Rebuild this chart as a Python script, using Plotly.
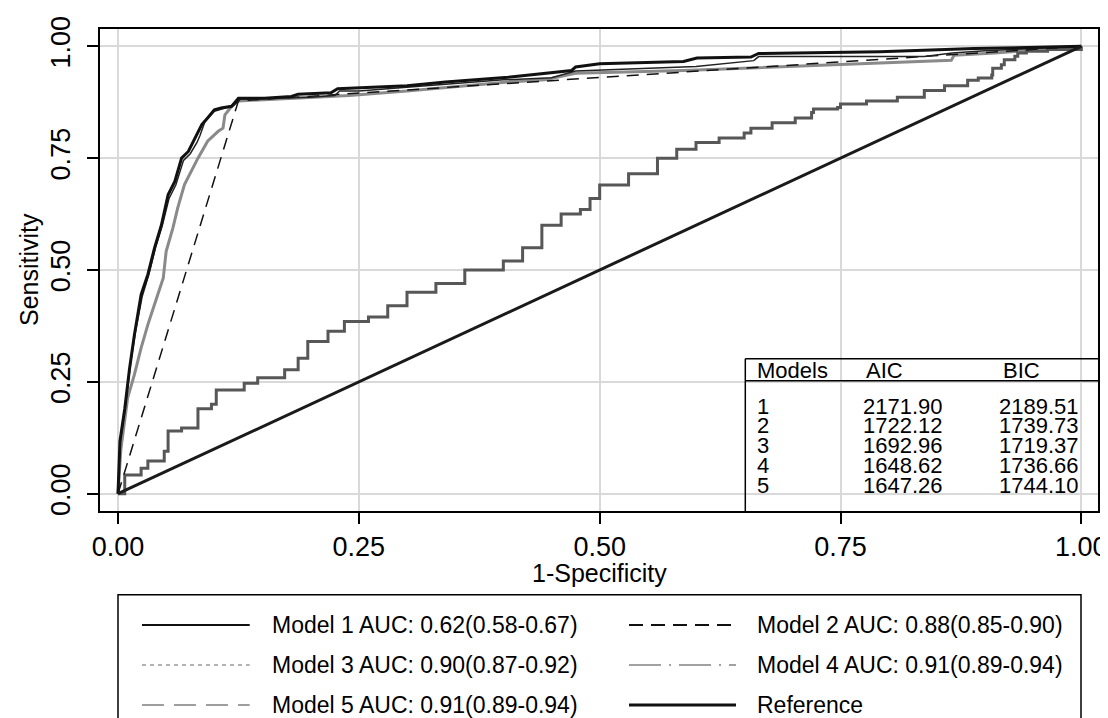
import plotly.graph_objects as go

# ---------------- data ----------------
tick_vals = [0, 0.25, 0.5, 0.75, 1.0]
tick_text = ["0.00", "0.25", "0.50", "0.75", "1.00"]

m1_fpr = [0, 0.007, 0.024, 0.031, 0.048, 0.052, 0.066, 0.083, 0.097, 0.102, 0.125, 0.131,
          0.145, 0.173, 0.187, 0.197, 0.218, 0.235, 0.26, 0.28, 0.30, 0.33, 0.36, 0.40,
          0.42, 0.44, 0.46, 0.48, 0.49, 0.50, 0.53, 0.56, 0.58, 0.60, 0.624, 0.650, 0.657,
          0.679, 0.703, 0.72, 0.722, 0.747, 0.75, 0.777, 0.809, 0.837, 0.858, 0.882, 0.893,
          0.907, 0.908, 0.917, 0.92, 0.931, 0.934, 0.943, 0.965, 1.0]
m1_tpr = [0, 0.042, 0.057, 0.073, 0.095, 0.14, 0.147, 0.19, 0.2, 0.232, 0.232, 0.247,
          0.259, 0.277, 0.303, 0.34, 0.363, 0.385, 0.395, 0.42, 0.45, 0.47, 0.50, 0.52,
          0.55, 0.60, 0.625, 0.635, 0.66, 0.69, 0.715, 0.75, 0.77, 0.785, 0.795, 0.806, 0.817,
          0.829, 0.840, 0.852, 0.86, 0.863, 0.871, 0.878, 0.886, 0.901, 0.912, 0.924, 0.929,
          0.936, 0.951, 0.959, 0.97, 0.978, 0.985, 0.989, 0.993, 1.0]

m2_fpr = [0, 0.125, 1.0]
m2_tpr = [0, 0.878, 1.0]

m3_fpr = [0, 0.002, 0.007, 0.012, 0.017, 0.024, 0.031, 0.038, 0.045, 0.052, 0.059, 0.066,
          0.073, 0.08, 0.087, 0.093, 0.1, 0.107, 0.118, 0.125, 0.152, 0.18, 0.187, 0.221,
          0.228, 0.30, 0.34, 0.405, 0.443, 0.471, 0.475, 0.50, 0.587, 0.601, 0.657, 0.665,
          0.791, 0.889, 1.0]
m3_tpr = [0, 0.117, 0.19, 0.28, 0.355, 0.445, 0.49, 0.55, 0.60, 0.668, 0.698, 0.75,
          0.765, 0.795, 0.825, 0.84, 0.858, 0.862, 0.866, 0.884, 0.884, 0.888, 0.893, 0.896,
          0.905, 0.912, 0.92, 0.931, 0.939, 0.946, 0.954, 0.961, 0.966, 0.974, 0.976, 0.984,
          0.988, 0.995, 1.0]

m4_fpr = [0, 0.002, 0.008, 0.013, 0.018, 0.025, 0.032, 0.039, 0.046, 0.053, 0.06, 0.068,
          0.075, 0.082, 0.085, 0.09, 0.1, 0.112, 0.12, 0.127, 0.2, 0.225, 0.23, 0.25, 0.4,
          0.45, 0.475, 0.6, 0.66, 0.665, 0.837, 0.866, 0.9, 1.0]
m4_tpr = [0, 0.11, 0.2, 0.29, 0.36, 0.44, 0.49, 0.55, 0.60, 0.66, 0.69, 0.745,
          0.76, 0.785, 0.80, 0.83, 0.855, 0.862, 0.868, 0.882, 0.886, 0.89, 0.9, 0.9, 0.925,
          0.93, 0.945, 0.955, 0.968, 0.977, 0.977, 0.985, 0.99, 1.0]

m5_fpr = [0, 0.003, 0.010, 0.017, 0.024, 0.031, 0.040, 0.047, 0.050, 0.057, 0.062, 0.069,
          0.083, 0.093, 0.104, 0.109, 0.111, 0.118, 0.125, 0.2, 0.24, 0.30, 0.405, 0.443,
          0.475, 0.587, 0.665, 0.865, 0.868, 0.91, 0.96, 1.0]
m5_tpr = [0, 0.1, 0.214, 0.266, 0.326, 0.378, 0.437, 0.482, 0.542, 0.594, 0.639, 0.691,
          0.750, 0.788, 0.81, 0.817, 0.847, 0.866, 0.878, 0.886, 0.89, 0.90, 0.92, 0.925,
          0.94, 0.946, 0.952, 0.969, 0.98, 0.985, 0.993, 1.0]

ref_x = [0, 1]
ref_y = [0, 1]

legend_labels = ["Model 1 AUC: 0.62(0.58-0.67)", "Model 2 AUC: 0.88(0.85-0.90)",
                 "Model 3 AUC: 0.90(0.87-0.92)", "Model 4 AUC: 0.91(0.89-0.94)",
                 "Model 5 AUC: 0.91(0.89-0.94)", "Reference"]

x_title = "1-Specificity"
y_title = "Sensitivity"

table_header = ["Models", "AIC", "BIC"]
table_models = ["1", "2", "3", "4", "5"]
table_aic = ["2171.90", "1722.12", "1692.96", "1648.62", "1647.26"]
table_bic = ["2189.51", "1739.73", "1719.37", "1736.66", "1744.10"]

# ---------------- layout geometry ----------------
W, H = 1108, 718
L, R, T, B = 92, 18, 21, 215
PW, PH = W - L - R, H - T - B
FONT = "Liberation Sans, Arial, Helvetica, sans-serif"


def px(xp):
    return (xp - L) / PW


def py(yp):
    return (H - B - yp) / PH


fig = go.Figure()

fig.add_trace(go.Scatter(x=m5_fpr, y=m5_tpr, mode="lines",
                         line=dict(color="#8a8a8a", width=3), name=legend_labels[4]))
fig.add_trace(go.Scatter(x=m1_fpr, y=m1_tpr, mode="lines", line_shape="hv",
                         line=dict(color="#575757", width=3), name=legend_labels[0]))
fig.add_trace(go.Scatter(x=m2_fpr, y=m2_tpr, mode="lines",
                         line=dict(color="#111111", width=1.5, dash="12px,8px"),
                         name=legend_labels[1]))
fig.add_trace(go.Scatter(x=m4_fpr, y=m4_tpr, mode="lines",
                         line=dict(color="#222222", width=1.5), name=legend_labels[3]))
fig.add_trace(go.Scatter(x=m3_fpr, y=m3_tpr, mode="lines",
                         line=dict(color="#111111", width=3), name=legend_labels[2]))
fig.add_trace(go.Scatter(x=ref_x, y=ref_y, mode="lines",
                         line=dict(color="#1a1a1a", width=3), name=legend_labels[5]))

axis_common = dict(
    tickvals=tick_vals, ticktext=tick_text,
    showgrid=True, gridcolor="#d9d9d9", gridwidth=2, zeroline=False,
    showline=True, mirror=True, linecolor="black", linewidth=2,
    ticks="outside", ticklen=11, tickwidth=1.5, tickcolor="black",
    tickfont=dict(size=27, color="black", family=FONT),
)

fig.update_layout(
    width=W, height=H,
    margin=dict(l=L, r=R, t=T, b=B, autoexpand=False),
    paper_bgcolor="white", plot_bgcolor="white",
    showlegend=False,
    font=dict(family=FONT, color="black"),
    xaxis=dict(range=[-0.01869, 1.0173], **axis_common),
    yaxis=dict(range=[-0.0387, 1.0387], tickangle=-90, ticklabelstandoff=6, **axis_common),
)

shapes = []
annotations = []

# ----- axis titles -----
annotations.append(dict(text=x_title, x=px(591.5), y=py(565), xref="paper", yref="paper",
                        xanchor="center", yanchor="middle", showarrow=False,
                        font=dict(size=25, color="black")))
annotations.append(dict(text=y_title, x=px(21), y=py(262), xref="paper", yref="paper",
                        xanchor="center", yanchor="middle", showarrow=False, textangle=-90,
                        font=dict(size=25, color="black")))

# ----- embedded table (AIC / BIC) -----
tbl_left, tbl_right = 737.3, 1090
tbl_top, tbl_head = 350.7, 372.7
shapes.append(dict(type="line", xref="paper", yref="paper", x0=px(tbl_left), x1=px(tbl_right),
                   y0=py(tbl_top), y1=py(tbl_top), line=dict(color="black", width=1.5)))
shapes.append(dict(type="line", xref="paper", yref="paper", x0=px(tbl_left), x1=px(tbl_right),
                   y0=py(tbl_head), y1=py(tbl_head), line=dict(color="black", width=1.5)))
shapes.append(dict(type="line", xref="paper", yref="paper", x0=px(tbl_left), x1=px(tbl_left),
                   y0=py(tbl_top), y1=0, line=dict(color="black", width=1.5)))

head_x = [746.7, 876.7, 1013]
head_anchor = ["left", "center", "center"]
for txt, xx, anc in zip(table_header, head_x, head_anchor):
    annotations.append(dict(text=txt, x=px(xx), y=py(363), xref="paper", yref="paper",
                            xanchor=anc, yanchor="middle", showarrow=False,
                            font=dict(size=22, color="black")))
row_y = [398.3, 417.5, 437, 457, 477]
for i in range(len(table_models)):
    for txt, xx in zip([table_models[i], table_aic[i], table_bic[i]], [746.7, 853, 989]):
        annotations.append(dict(text=txt, x=px(xx), y=py(row_y[i]), xref="paper", yref="paper",
                                xanchor="left", yanchor="middle", showarrow=False,
                                font=dict(size=22, color="black")))

# ----- custom legend box below the plot -----
leg_left, leg_right, leg_top, leg_bot = 110, 1073, 586.7, 740
shapes.append(dict(type="rect", xref="paper", yref="paper", x0=px(leg_left), x1=px(leg_right),
                   y0=py(leg_bot), y1=py(leg_top), line=dict(color="black", width=1.5),
                   fillcolor="rgba(0,0,0,0)"))
leg_rows = [617, 657, 697]
leg_cols = [(134, 241.7, 261.7), (621, 728, 746.7)]
leg_styles = [
    dict(color="#111111", width=2, dash="solid"),
    dict(color="#111111", width=2, dash="14px,8px"),
    dict(color="#666666", width=1, dash="4px,4px"),
    dict(color="#444444", width=1, dash="32px,8px,2px,8px"),
    dict(color="#808080", width=1.5, dash="22px,10px"),
    dict(color="#111111", width=3, dash="solid"),
]
for k, (lab, sty) in enumerate(zip(legend_labels, leg_styles)):
    col = k % 2
    row = k // 2
    x0, x1, xt = leg_cols[col]
    yy = leg_rows[row]
    shapes.append(dict(type="line", xref="paper", yref="paper", x0=px(x0), x1=px(x1),
                       y0=py(yy), y1=py(yy), line=sty))
    annotations.append(dict(text=lab, x=px(xt), y=py(yy), xref="paper", yref="paper",
                            xanchor="left", yanchor="middle", showarrow=False,
                            font=dict(size=23, color="black")))

fig.update_layout(shapes=shapes, annotations=annotations)

fig.write_html("out.html")
